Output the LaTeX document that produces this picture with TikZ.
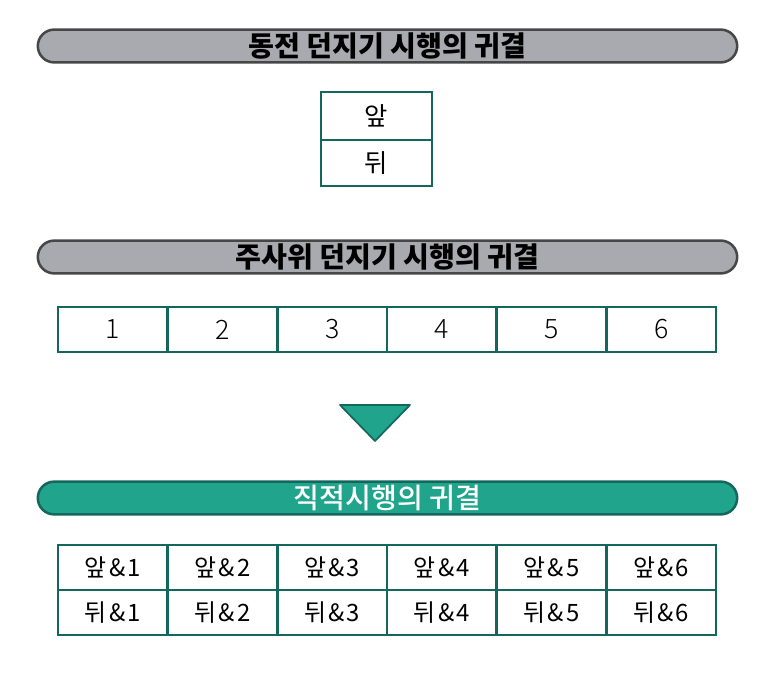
\documentclass[tikz,border=0pt]{standalone}
\usepackage{fontspec}
\setmainfont{Noto Sans CJK KR}
\newfontfamily\lightfont{Noto Sans CJK KR Light}
\newfontfamily\mediumfont{Noto Sans CJK KR Medium}
\usetikzlibrary{shapes.misc}
\definecolor{tealline}{HTML}{14675C}
\definecolor{tealfill}{HTML}{20A58C}
\definecolor{grayfill}{HTML}{A9A9B0}
\tikzstyle{banner} = [rounded rectangle,draw=black!72,line width=1.8pt,minimum width=17.48cm,minimum height=0.82cm,inner sep=0pt,font=\fontsize{20}{22}\selectfont\bfseries]
\tikzstyle{cell} = [draw=tealline,line width=2pt,minimum width=2.742cm,minimum height=1.125cm,inner sep=0pt,font=\fontsize{17}{19}\selectfont]

\begin{document}
\begin{tikzpicture}[x=0.025cm,y=-0.025cm]
		\useasboundingbox (0,0) rectangle (776,678);

		\node[banner,fill=grayfill] (coin) at (387.5,46) {동전 던지기 시행의 귀결};
		\node[cell,minimum width=2.775cm,minimum height=1.2cm,font=\fontsize{18}{20}\selectfont] (front) at (376.5,116) {앞};
		\node[cell,minimum width=2.775cm,minimum height=1.15cm,font=\fontsize{18}{20}\selectfont] (back) at (376.5,163) {뒤};

		\node[banner,fill=grayfill] (dice) at (387.5,257) {주사위 던지기 시행의 귀결};
		\foreach \i in {1,...,6}
			\node[cell,font=\fontsize{19}{21}\selectfont\lightfont] (d\i) at ({58+(\i-0.5)*109.67},329.5) {\i};

		\draw[draw=tealline,fill=tealfill,line width=1.2pt,line join=round] (340,405) -- (410,405) -- (375,441) -- cycle;

		\node[banner,fill=tealfill,draw=tealline,text=white,font=\fontsize{20}{22}\selectfont\mediumfont] (prod) at (387.5,498) {직적시행의 귀결};
		\foreach \i in {1,...,6} {
			\node[cell] (f\i) at ({58+(\i-0.5)*109.67},567.5) {앞\hspace{1.5pt}\&\hspace{1.5pt}\i};
			\node[cell] (b\i) at ({58+(\i-0.5)*109.67},612.5) {뒤\hspace{1.5pt}\&\hspace{1.5pt}\i};
		}
	\end{tikzpicture}
\end{document}
